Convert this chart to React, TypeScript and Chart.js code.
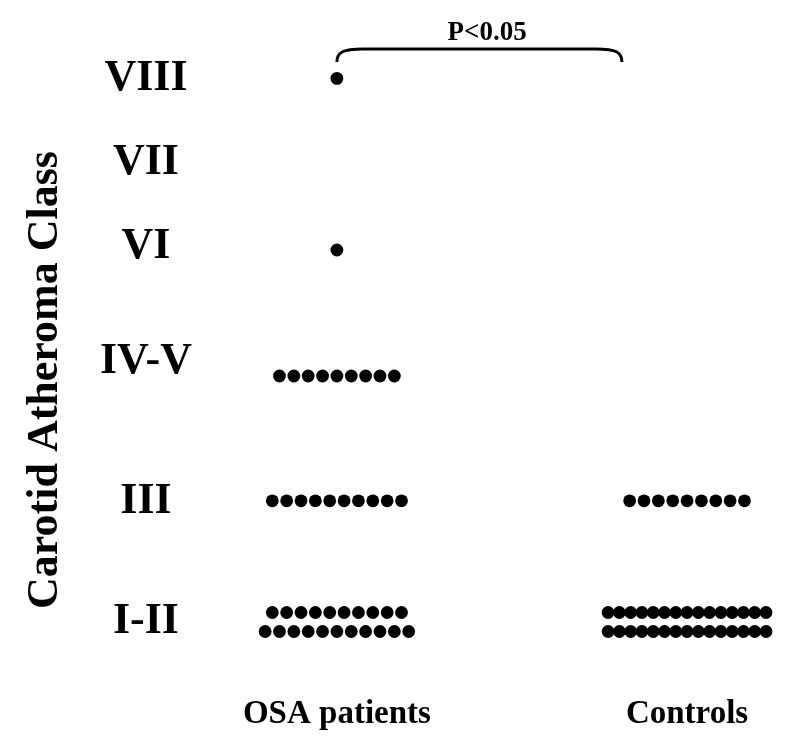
import React, { useEffect, useRef } from 'react';
import { Chart, registerables } from 'chart.js';

Chart.register(...registerables);

// ---- Data ----
const classLabels = ['I-II', 'III', 'IV-V', 'VI', 'VII', 'VIII'];
const classTickPositions = [0, 1, 2.17, 3.13, 3.83, 4.53];
const classDotPositions = [0, 1.01, 2.05, 3.1, 3.83, 4.53];
const groupLabels = ['OSA patients', 'Controls'];
const groupPositions = [0, 1];
const osaCounts = [21, 10, 9, 1, 0, 1];
const controlCounts = [30, 9, 0, 0, 0, 0];
const significanceLabel = 'P<0.05';

// ---- Layout constants (not data) ----
const DOT_STEP = 0.041;
const ROW_MAX_WIDTH = 0.451;
const ROW_GAP = 0.158;
const FONT = "'Liberation Serif', 'Times New Roman', serif";

function dotsFor(groupX: number, counts: number[]) {
  const pts: { x: number; y: number }[] = [];
  counts.forEach((n, ci) => {
    if (n === 0) return;
    const y = classDotPositions[ci];
    const rows = n > 12 ? [Math.floor(n / 2), n - Math.floor(n / 2)] : [n];
    const rowYs = rows.length === 2 ? [y + ROW_GAP / 2, y - ROW_GAP / 2] : [y];
    rows.forEach((m, ri) => {
      const step = m > 1 ? Math.min(DOT_STEP, ROW_MAX_WIDTH / (m - 1)) : 0;
      for (let k = 0; k < m; k++) {
        pts.push({ x: groupX + (k - (m - 1) / 2) * step, y: rowYs[ri] });
      }
    });
  });
  return pts;
}

const bracket = { x1: 0, x2: 0.814, yBottom: 4.667, yTop: 4.775, textX: 0.429, textY: 4.908 };

const bracePlugin = {
  id: 'brace',
  afterDraw(chart: any) {
    const { ctx, scales } = chart;
    const xs = scales.x;
    const ys = scales.y;
    const x1 = xs.getPixelForValue(bracket.x1);
    const x2 = xs.getPixelForValue(bracket.x2);
    const yb = ys.getPixelForValue(bracket.yBottom);
    const yt = ys.getPixelForValue(bracket.yTop);
    ctx.save();
    ctx.strokeStyle = '#000';
    ctx.lineWidth = 3;
    ctx.beginPath();
    ctx.moveTo(x1, yb);
    ctx.bezierCurveTo(x1, yt + 3, x1 + 6, yt, x1 + 26, yt);
    ctx.lineTo(x2 - 26, yt);
    ctx.bezierCurveTo(x2 - 6, yt, x2, yt + 3, x2, yb);
    ctx.stroke();
    ctx.fillStyle = '#000';
    ctx.font = `bold 27px ${FONT}`;
    ctx.textAlign = 'center';
    ctx.textBaseline = 'middle';
    ctx.fillText(significanceLabel, xs.getPixelForValue(bracket.textX), ys.getPixelForValue(bracket.textY));
    ctx.restore();
  },
};

export default function App() {
  const ref = useRef<HTMLCanvasElement>(null);
  useEffect(() => {
    if (!ref.current) return;
    const chart = new Chart(ref.current, {
      type: 'scatter',
      data: {
        datasets: [
          {
            label: groupLabels[0],
            data: dotsFor(groupPositions[0], osaCounts),
            backgroundColor: '#000',
            borderWidth: 0,
            pointRadius: 6.4,
            pointHoverRadius: 6.4,
            clip: false as any,
          },
          {
            label: groupLabels[1],
            data: dotsFor(groupPositions[1], controlCounts),
            backgroundColor: '#000',
            borderWidth: 0,
            pointRadius: 6.4,
            pointHoverRadius: 6.4,
            clip: false as any,
          },
        ],
      },
      options: {
        animation: false,
        responsive: true,
        maintainAspectRatio: false,
        layout: { padding: { top: 70, right: 10, left: 0, bottom: 0 } },
        plugins: { legend: { display: false }, tooltip: { enabled: false } },
        scales: {
          x: {
            type: 'linear',
            min: -0.391,
            max: 1.294,
            grid: { display: false },
            border: { display: false },
            afterFit: (s: any) => { s.height = 66; },
            afterBuildTicks: (s: any) => { s.ticks = groupPositions.map((v) => ({ value: v })); },
            ticks: {
              autoSkip: false,
              maxRotation: 0,
              padding: -3,
              color: '#000',
              font: { family: FONT, size: 33, weight: 'bold' },
              callback: (v: any) => groupLabels[groupPositions.indexOf(Number(v))] ?? '',
            },
          },
          y: {
            type: 'linear',
            min: -0.5667,
            max: 4.6,
            grid: { display: false },
            border: { display: false },
            afterFit: (s: any) => { s.width = 200; },
            afterBuildTicks: (s: any) => { s.ticks = classTickPositions.map((v) => ({ value: v })); },
            ticks: {
              autoSkip: false,
              crossAlign: 'center',
              padding: 0,
              color: '#000',
              font: { family: FONT, size: 44, weight: 'bold' },
              callback: (v: any) => classLabels[classTickPositions.indexOf(Number(v))] ?? '',
            },
            title: {
              display: true,
              text: 'Carotid Atheroma Class',
              color: '#000',
              padding: { top: 19, bottom: 0 },
              font: { family: FONT, size: 44, weight: 'bold' },
            },
          },
        },
      },
      plugins: [bracePlugin],
    } as any);
    return () => chart.destroy();
  }, []);
  return (
    <div style={{ position: 'absolute', left: 0, top: 0, width: 800, height: 756, background: '#fff' }}>
      <canvas ref={ref} />
    </div>
  );
}
